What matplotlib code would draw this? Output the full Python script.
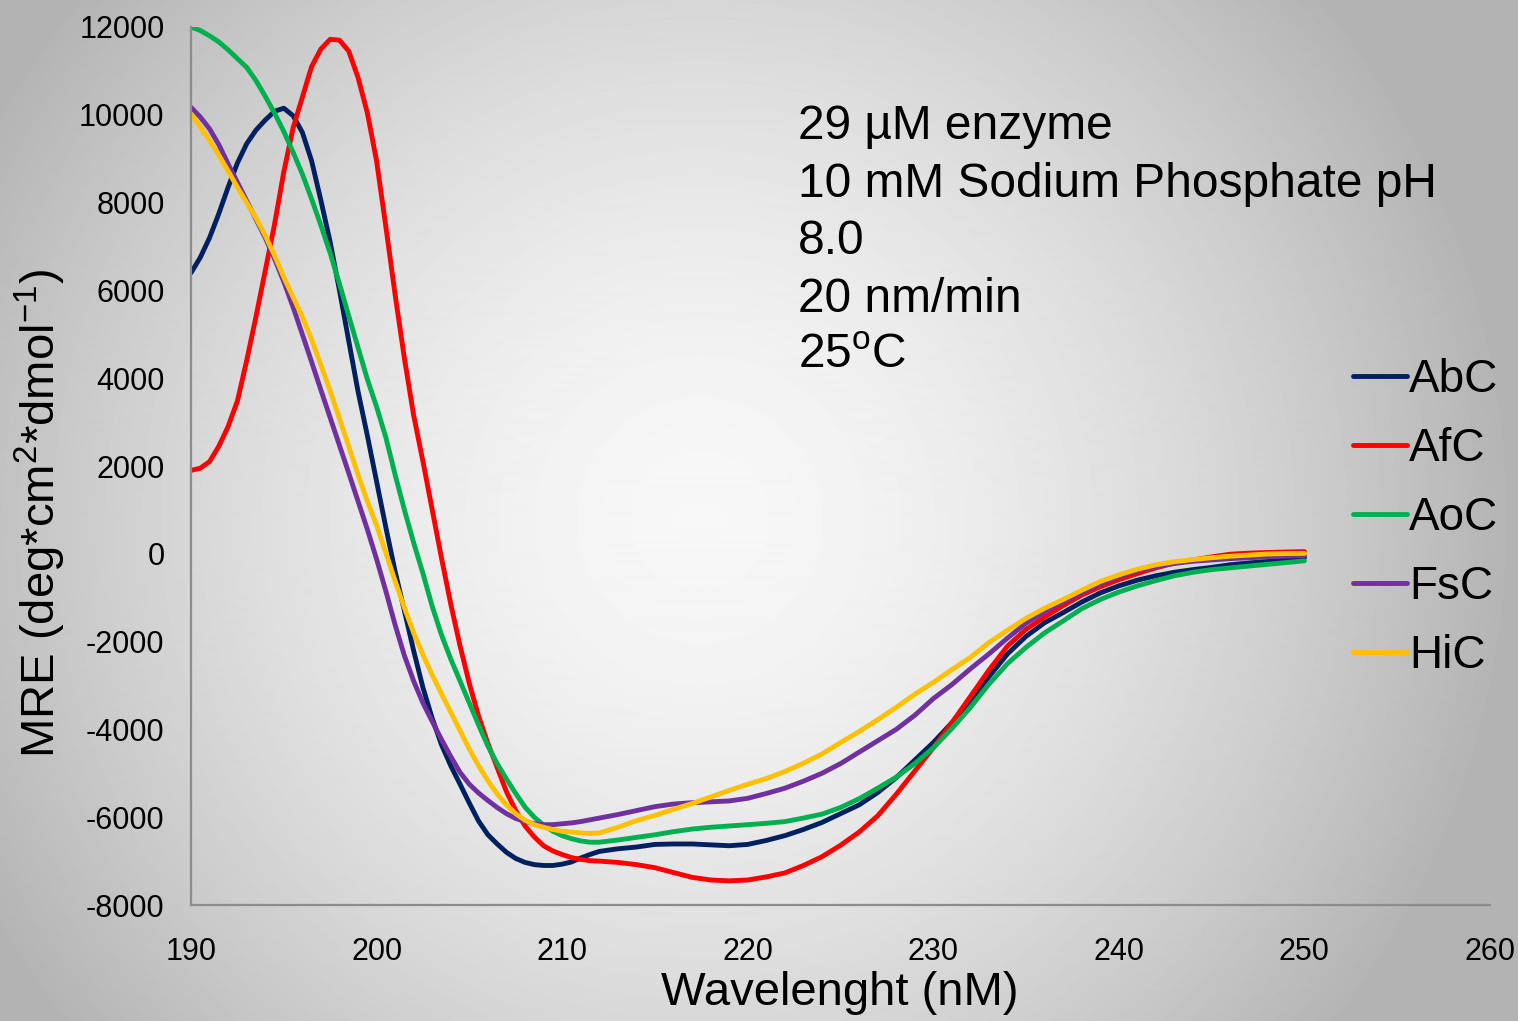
import numpy as np
import matplotlib.pyplot as plt

plt.rcParams['font.family'] = ['Liberation Sans', 'DejaVu Sans']
plt.rcParams['mathtext.fontset'] = 'custom'
plt.rcParams['mathtext.rm'] = 'Liberation Sans'
plt.rcParams['mathtext.it'] = 'Liberation Sans:italic'
plt.rcParams['axes.unicode_minus'] = False

# wavelength (nm): 0.5 nm steps up to 212, then 1 nm steps
wavelength = [190, 190.5, 191, 191.5, 192, 192.5, 193, 193.5, 194, 194.5,
              195, 195.5, 196, 196.5, 197, 197.5, 198, 198.5, 199, 199.5,
              200, 200.5, 201, 201.5, 202, 202.5, 203, 203.5, 204, 204.5,
              205, 205.5, 206, 206.5, 207, 207.5, 208, 208.5, 209, 209.5,
              210, 210.5, 211, 211.5, 212,
              213, 214, 215, 216, 217, 218, 219, 220, 221, 222,
              223, 224, 225, 226, 227, 228, 229, 230, 231, 232,
              233, 234, 235, 236, 237, 238, 239, 240, 241, 242,
              243, 244, 245, 246, 247, 248, 249, 250]

abc = [6400, 6750, 7200, 7750, 8350, 8900, 9340, 9650, 9880, 10080,
       10150, 9980, 9600, 8950, 8050, 7100, 6000, 4850, 3700, 2700,
       1650, 600, -400, -1300, -2210, -3050, -3750, -4350, -4830, -5250,
       -5680, -6090, -6400, -6610, -6800, -6940, -7030, -7080, -7100, -7100,
       -7070, -7020, -6930, -6850, -6780,
       -6720, -6680, -6620, -6610, -6610, -6630, -6650, -6620, -6530, -6420,
       -6280, -6120, -5920, -5720, -5440, -5100, -4700, -4300, -3850, -3350,
       -2800, -2280, -1880, -1570, -1340, -1100, -890, -730, -600, -500,
       -420, -360, -310, -250, -210, -175, -130, -90]

afc = [1900, 1950, 2100, 2450, 2900, 3480, 4400, 5400, 6450, 7500,
       8700, 9700, 10400, 11100, 11500, 11720, 11700, 11450, 10850, 10050,
       8950, 7450, 5900, 4450, 3150, 2100, 1000, -100, -1150, -2100,
       -2960, -3700, -4320, -4870, -5420, -5850, -6200, -6450, -6650, -6770,
       -6850, -6920, -6960, -6990, -7000,
       -7030, -7080, -7150, -7260, -7370, -7430, -7450, -7430, -7360, -7270,
       -7100, -6900, -6640, -6340, -5970, -5480, -4950, -4420, -3850, -3250,
       -2650, -2100, -1720, -1440, -1180, -940, -750, -590, -450, -320,
       -210, -140, -70, -10, 15, 30, 40, 50]

aoc = [12000, 11920, 11800, 11660, 11480, 11280, 11080, 10780, 10420, 10040,
       9620, 9150, 8650, 8080, 7480, 6850, 6150, 5420, 4700, 3980,
       3350, 2650, 1800, 1000, 250, -450, -1200, -1850, -2400, -2900,
       -3400, -3900, -4380, -4780, -5130, -5460, -5770, -6000, -6180, -6320,
       -6420, -6490, -6540, -6570, -6570,
       -6520, -6460, -6400, -6330, -6270, -6230, -6200, -6170, -6140, -6100,
       -6020, -5930, -5780, -5580, -5340, -5090, -4780, -4420, -3980, -3500,
       -2970, -2500, -2130, -1800, -1530, -1250, -1040, -870, -730, -610,
       -500, -420, -360, -320, -280, -240, -200, -160]

fsc = [10170, 9950, 9680, 9320, 8880, 8460, 8040, 7620, 7200, 6720,
       6200, 5620, 5000, 4370, 3730, 3100, 2470, 1840, 1200, 560,
       -120, -850, -1620, -2320, -2900, -3400, -3820, -4230, -4620, -4980,
       -5250, -5450, -5620, -5780, -5920, -6030, -6100, -6150, -6170, -6170,
       -6150, -6130, -6100, -6060, -6020,
       -5940, -5850, -5760, -5700, -5670, -5650, -5630, -5570, -5460, -5340,
       -5180, -5000, -4780, -4520, -4260, -4000, -3680, -3300, -2980, -2620,
       -2280, -1920, -1580, -1320, -1090, -880, -680, -520, -380, -290,
       -220, -170, -140, -110, -90, -70, -55, -40]

hic = [10020, 9720, 9420, 9080, 8720, 8350, 8000, 7650, 7250, 6800,
       6300, 5850, 5400, 4880, 4300, 3710, 3080, 2450, 1800, 1200,
       650, 20, -620, -1230, -1800, -2300, -2760, -3190, -3610, -4030,
       -4450, -4830, -5170, -5470, -5720, -5920, -6070, -6170, -6230, -6280,
       -6320, -6340, -6360, -6370, -6360,
       -6230, -6080, -5960, -5820, -5690, -5540, -5390, -5250, -5120, -4960,
       -4770, -4560, -4300, -4050, -3780, -3500, -3200, -2930, -2640, -2360,
       -2020, -1740, -1470, -1240, -1040, -830, -630, -480, -350, -250,
       -180, -130, -90, -55, -30, -5, 5, 10]

series = [('AbC', abc, '#002060'), ('AfC', afc, '#FF0000'), ('AoC', aoc, '#00B050'),
          ('FsC', fsc, '#7030A0'), ('HiC', hic, '#FFC000')]

notes = ['29 µM enzyme', '10 mM Sodium Phosphate pH', '8.0', '20 nm/min', r'25$^{\rm o}$C']

W, H = 1518, 1021
fig = plt.figure(figsize=(W / 100, H / 100), dpi=100)

# radial grey background
bg = fig.add_axes([0, 0, 1, 1], zorder=-10)
yy, xx = np.mgrid[0:H, 0:W]
d = np.hypot(xx - 700, yy - 520)
shade = 0.97 - 0.27 * np.minimum(d / 820, 1) ** 1.6
bg.imshow(shade, cmap='gray', vmin=0, vmax=1, aspect='auto', extent=[0, 1, 0, 1])
bg.axis('off')

ax = fig.add_axes([191 / W, 1 - 905 / H, (1490 - 191) / W, (905 - 27) / H])
ax.patch.set_alpha(0)

for name, vals, col in series:
    ax.plot(wavelength, vals, color=col, lw=3.5, label=name,
            solid_capstyle='round', solid_joinstyle='round')

ax.set_xlim(190, 260)
ax.set_ylim(-8000, 12000)
ax.set_xticks(range(190, 261, 10))
ax.set_yticks(range(-8000, 12001, 2000))
ax.tick_params(length=0, labelsize=22)
ax.tick_params(axis='x', pad=23)
ax.tick_params(axis='y', pad=19)
for s in ['top', 'right']:
    ax.spines[s].set_visible(False)
for s in ['left', 'bottom']:
    ax.spines[s].set_color('#8c8c8c')
    ax.spines[s].set_linewidth(1.6)

fig.text(840 / W, 1 - 993 / H, 'Wavelenght (nM)', fontsize=34, ha='center', va='center')
fig.text(40 / W, 1 - 513 / H, r'MRE (deg*cm$^{2}$*dmol$^{-1}$)', fontsize=34,
         rotation=90, ha='center', va='center')

baselines = [139, 197, 254, 312, 368]
for txt, b in zip(notes, baselines):
    fig.text(798 / W, 1 - b / H, txt, fontsize=34.5, ha='left', va='baseline')

ax.legend(loc='center left', bbox_to_anchor=(1353 / W, 1 - 518 / H),
          bbox_transform=fig.transFigure, frameon=False, fontsize=33,
          handlelength=1.18, handletextpad=0.05, labelspacing=0.55,
          borderpad=0, borderaxespad=0)

fig.savefig('out.png', dpi=100)
